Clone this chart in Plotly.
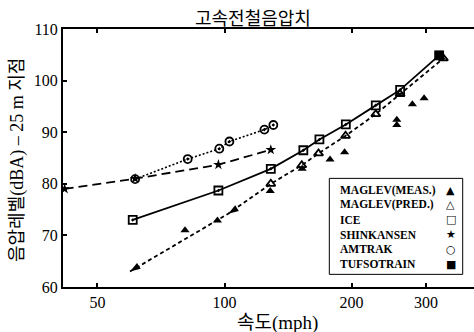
import plotly.graph_objects as go

# ---- data ----
amtrak_mph = [61.4, 81.8, 97.2, 102.7, 124.3, 130.5]
amtrak_db = [80.9, 84.8, 86.8, 88.2, 90.5, 91.4]

shink_mph = [41.8, 61.4, 96.7, 128.7]
shink_db = [79.0, 81.0, 83.7, 86.6]

ice_mph = [60.6, 96.7, 128.7, 153.7, 167.8, 193.8, 228.2, 260.6, 322.4]
ice_db = [73.0, 78.7, 82.9, 86.5, 88.6, 91.5, 95.2, 98.2, 104.9]

tufso_mph = [322.4]
tufso_db = [105.0]

pred_line_mph = [59.7, 102.0, 128.7, 152.4, 167.0, 193.5, 228.2, 260.6, 330.0]
pred_line_db = [63.0, 74.2, 80.0, 83.6, 85.9, 89.3, 93.5, 97.4, 104.3]
pred_arrow_mph = [59.7, 102.0]
pred_arrow_db = [63.0, 74.2]
pred_mph = [128.7, 152.4, 167.0, 193.5, 228.2, 260.6, 330.0]
pred_db = [80.0, 83.6, 85.9, 89.3, 93.5, 97.4, 104.3]

meas_mph = [80.6, 96.2, 128.3, 152.7, 177.8, 192.5, 255.9, 255.9, 278.6, 297.0, 326.0]
meas_db = [71.0, 72.9, 78.6, 82.9, 84.7, 86.1, 92.4, 91.4, 95.4, 96.6, 104.5]

x_ticks = [50, 100, 200, 300]
y_ticks = [60, 70, 80, 90, 100, 110]

legend_names = ["MAGLEV(MEAS.)", "MAGLEV(PRED.)", "ICE", "SHINKANSEN", "AMTRAK", "TUFSOTRAIN"]
legend_syms = ["▲", "△", "□", "★", "○", "■"]

title_text = "고속전철음압치"
x_title = "속도(mph)"
y_title = "음압레벨(dBA) – 25 m 지점"

# ---- figure ----
fig = go.Figure()

fig.add_trace(go.Scatter(x=shink_mph, y=shink_db, mode="lines+markers",
                         line=dict(color="black", width=1.8, dash="9px,5px"),
                         marker=dict(symbol="star", size=8, color="black")))
fig.add_trace(go.Scatter(x=amtrak_mph, y=amtrak_db, mode="lines+markers",
                         line=dict(color="black", width=1.6, dash="2px,2px"),
                         marker=dict(symbol="circle-open-dot", size=8, color="black",
                                     line=dict(width=1.8))))
fig.add_trace(go.Scatter(x=pred_line_mph, y=pred_line_db, mode="lines",
                         line=dict(color="black", width=1.8, dash="4px,3px")))
fig.add_trace(go.Scatter(x=meas_mph, y=meas_db, mode="markers",
                         marker=dict(symbol="triangle-up", size=8, color="black")))
fig.add_trace(go.Scatter(x=pred_mph, y=pred_db, mode="markers",
                         marker=dict(symbol="triangle-up-open", size=8, color="black",
                                     line=dict(width=1.8))))
fig.add_trace(go.Scatter(x=pred_arrow_mph, y=pred_arrow_db, mode="markers",
                         marker=dict(symbol="arrow", size=11, color="black", angle=238)))
fig.add_trace(go.Scatter(x=ice_mph, y=ice_db, mode="lines+markers",
                         line=dict(color="black", width=1.8),
                         marker=dict(symbol="square-open-dot", size=8, color="black",
                                     line=dict(width=1.8))))
fig.add_trace(go.Scatter(x=tufso_mph, y=tufso_db, mode="markers",
                         marker=dict(symbol="square", size=8, color="black")))

serif = "Liberation Serif, Times New Roman, serif"
mixed = "Liberation Serif, Noto Sans CJK KR, serif"
cjk = "Noto Sans CJK KR"

fig.update_xaxes(type="log", range=[1.6173, 2.591], tickvals=x_ticks,
                 ticktext=[str(v) for v in x_ticks],
                 ticks="inside", ticklen=4, tickwidth=1.5, tickcolor="black",
                 showline=True, linewidth=2, linecolor="black", mirror="allticks",
                 showgrid=False, zeroline=False,
                 tickfont=dict(family=serif, size=16, color="black"))
fig.update_yaxes(range=[60, 110], tickvals=y_ticks,
                 ticks="inside", ticklen=4, tickwidth=1.5, tickcolor="black",
                 showline=True, linewidth=2, linecolor="black", mirror=False,
                 showgrid=False, zeroline=False,
                 tickfont=dict(family=serif, size=16, color="black"))

annotations = [
    dict(text=title_text, x=0.462, y=1.046, xref="paper", yref="paper",
         showarrow=False, font=dict(family=cjk, size=18, color="black"),
         xanchor="center", yanchor="middle"),
    dict(text=x_title, x=0.522, y=-0.14, xref="paper", yref="paper",
         showarrow=False, font=dict(family=mixed, size=19, color="black"),
         xanchor="center", yanchor="middle"),
    dict(text=y_title, x=-0.112, y=0.492, xref="paper", yref="paper",
         showarrow=False, textangle=-90, font=dict(family=mixed, size=18, color="black"),
         xanchor="center", yanchor="middle"),
]
leg_y = [0.373, 0.318, 0.260, 0.2016, 0.146, 0.088]
for name, sym, yy in zip(legend_names, legend_syms, leg_y):
    annotations.append(dict(text="<b>" + name + "</b>", x=0.668, y=yy, xref="paper", yref="paper",
                            showarrow=False, xanchor="left", yanchor="middle",
                            font=dict(family=serif, size=11.5, color="black")))
    annotations.append(dict(text=sym, x=0.943, y=yy, xref="paper", yref="paper",
                            showarrow=False, xanchor="center", yanchor="middle",
                            font=dict(family="DejaVu Sans", size=11, color="black")))

fig.update_layout(
    width=474, height=332,
    margin=dict(l=63, r=0, t=29, b=45),
    paper_bgcolor="white", plot_bgcolor="white",
    showlegend=False,
    annotations=annotations,
    shapes=[dict(type="rect", xref="paper", yref="paper",
                 x0=0.648, x1=0.9725, y0=0.049, y1=0.421,
                 line=dict(color="black", width=1), fillcolor="white", layer="below")],
)

fig.write_html("out.html")
